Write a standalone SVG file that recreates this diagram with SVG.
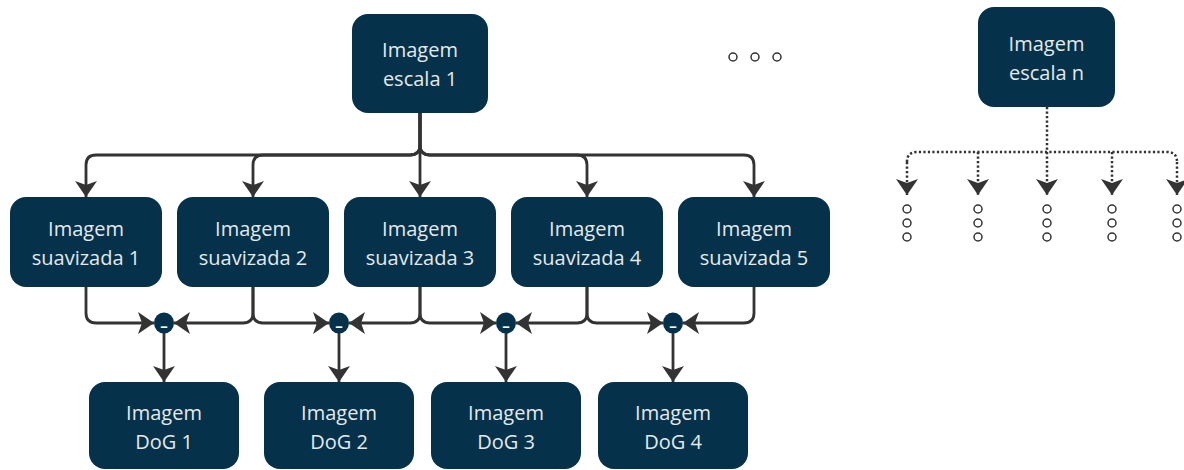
<svg xmlns="http://www.w3.org/2000/svg" width="1184" height="470" viewBox="0 0 1184 470">
<defs>
<style>
.box{fill:#05314a;}
.lbl{font-family:"Open Sans","Noto Sans",sans-serif;font-size:20px;fill:#e4e9ec;text-anchor:middle;}
.con{fill:none;stroke:#333333;stroke-width:2.8;marker-end:url(#ah);}
.dot{fill:none;stroke:#333333;stroke-width:2.5;stroke-dasharray:2.2 2.3;}
.dotA{marker-end:url(#ah);}
.oc{fill:#ffffff;stroke:#333333;stroke-width:1.5;}
.minus{fill:#05314a;}
.mtxt{font-family:"Open Sans","Noto Sans",sans-serif;font-size:15px;font-weight:bold;fill:#ffffff;text-anchor:middle;}
</style>
<marker id="ah" viewBox="0 0 16 22" markerUnits="userSpaceOnUse" markerWidth="16" markerHeight="22" refX="16" refY="11" orient="auto">
<path d="M0,0 L16,11 L0,22 L4,11 Z" fill="#333333"/>
</marker>
</defs>
<rect width="1184" height="470" fill="#ffffff"/>

<g id="connectors">
<path class="con" d="M420,113 V145 Q420,155 410,155 H96 Q86,155 86,165 V197"/>
<path class="con" d="M420,113 V145 Q420,155 410,155 H263 Q253,155 253,165 V197"/>
<path class="con" d="M420,113 V197"/>
<path class="con" d="M420,113 V145 Q420,155 430,155 H577 Q587,155 587,165 V197"/>
<path class="con" d="M420,113 V145 Q420,155 430,155 H744 Q754,155 754,165 V197"/>

<path class="con" d="M86,287 V313 Q86,323 96,323 H154"/>
<path class="con" d="M253,287 V313 Q253,323 243,323 H174"/>
<path class="con" d="M253,287 V313 Q253,323 263,323 H329"/>
<path class="con" d="M420,287 V313 Q420,323 410,323 H349"/>
<path class="con" d="M420,287 V313 Q420,323 430,323 H496"/>
<path class="con" d="M587,287 V313 Q587,323 577,323 H516"/>
<path class="con" d="M587,287 V313 Q587,323 597,323 H663"/>
<path class="con" d="M754,287 V313 Q754,323 744,323 H683"/>

<path class="con" d="M164,333 V382"/>
<path class="con" d="M339,333 V382"/>
<path class="con" d="M506,333 V382"/>
<path class="con" d="M673,333 V382"/>

<path class="dot" d="M907,162 Q907,152 917,152 H1167 Q1177,152 1177,162"/>
<path class="dot dotA" d="M1047,107 V195"/>
<path class="dot dotA" d="M907,162 V195"/>
<path class="dot dotA" d="M978,152 V195"/>
<path class="dot dotA" d="M1112,152 V195"/>
<path class="dot dotA" d="M1177,162 V195"/>
</g>

<g id="escala1"><rect class="box" x="352" y="14" width="136" height="99" rx="16"/><text class="lbl" x="420" y="57">Imagem</text><text class="lbl" x="420" y="86">escala 1</text></g>
<g id="escalaN"><rect class="box" x="978" y="7" width="137" height="100" rx="16"/><text class="lbl" x="1046.5" y="51">Imagem</text><text class="lbl" x="1046.5" y="80">escala n</text></g>

<g id="suav1"><rect class="box" x="10" y="197" width="152" height="90" rx="16"/><text class="lbl" x="86" y="236">Imagem</text><text class="lbl" x="86" y="265">suavizada 1</text></g>
<g id="suav2"><rect class="box" x="177" y="197" width="152" height="90" rx="16"/><text class="lbl" x="253" y="236">Imagem</text><text class="lbl" x="253" y="265">suavizada 2</text></g>
<g id="suav3"><rect class="box" x="344" y="197" width="152" height="90" rx="16"/><text class="lbl" x="420" y="236">Imagem</text><text class="lbl" x="420" y="265">suavizada 3</text></g>
<g id="suav4"><rect class="box" x="511" y="197" width="152" height="90" rx="16"/><text class="lbl" x="587" y="236">Imagem</text><text class="lbl" x="587" y="265">suavizada 4</text></g>
<g id="suav5"><rect class="box" x="678" y="197" width="152" height="90" rx="16"/><text class="lbl" x="754" y="236">Imagem</text><text class="lbl" x="754" y="265">suavizada 5</text></g>

<g id="minus1"><ellipse class="minus" cx="164" cy="323" rx="10" ry="10.5"/><text class="mtxt" x="164" y="331">–</text></g>
<g id="minus2"><ellipse class="minus" cx="339" cy="323" rx="10" ry="10.5"/><text class="mtxt" x="339" y="331">–</text></g>
<g id="minus3"><ellipse class="minus" cx="506" cy="323" rx="10" ry="10.5"/><text class="mtxt" x="506" y="331">–</text></g>
<g id="minus4"><ellipse class="minus" cx="673" cy="323" rx="10" ry="10.5"/><text class="mtxt" x="673" y="331">–</text></g>

<g id="dog1"><rect class="box" x="89" y="382" width="150" height="87" rx="16"/><text class="lbl" x="164" y="420">Imagem</text><text class="lbl" x="164" y="449">DoG 1</text></g>
<g id="dog2"><rect class="box" x="264" y="382" width="150" height="87" rx="16"/><text class="lbl" x="339" y="420">Imagem</text><text class="lbl" x="339" y="449">DoG 2</text></g>
<g id="dog3"><rect class="box" x="431" y="382" width="150" height="87" rx="16"/><text class="lbl" x="506" y="420">Imagem</text><text class="lbl" x="506" y="449">DoG 3</text></g>
<g id="dog4"><rect class="box" x="598" y="382" width="150" height="87" rx="16"/><text class="lbl" x="673" y="420">Imagem</text><text class="lbl" x="673" y="449">DoG 4</text></g>

<g id="ellipsis-top">
<circle class="oc" cx="733" cy="57" r="4"/><circle class="oc" cx="755" cy="57" r="4"/><circle class="oc" cx="777" cy="57" r="4"/>
</g>
<g id="ellipsis-columns">
<circle class="oc" cx="907" cy="209" r="4"/><circle class="oc" cx="907" cy="223" r="4"/><circle class="oc" cx="907" cy="237" r="4"/>
<circle class="oc" cx="978" cy="209" r="4"/><circle class="oc" cx="978" cy="223" r="4"/><circle class="oc" cx="978" cy="237" r="4"/>
<circle class="oc" cx="1047" cy="209" r="4"/><circle class="oc" cx="1047" cy="223" r="4"/><circle class="oc" cx="1047" cy="237" r="4"/>
<circle class="oc" cx="1112" cy="209" r="4"/><circle class="oc" cx="1112" cy="223" r="4"/><circle class="oc" cx="1112" cy="237" r="4"/>
<circle class="oc" cx="1177" cy="209" r="4"/><circle class="oc" cx="1177" cy="223" r="4"/><circle class="oc" cx="1177" cy="237" r="4"/>
</g>
</svg>
